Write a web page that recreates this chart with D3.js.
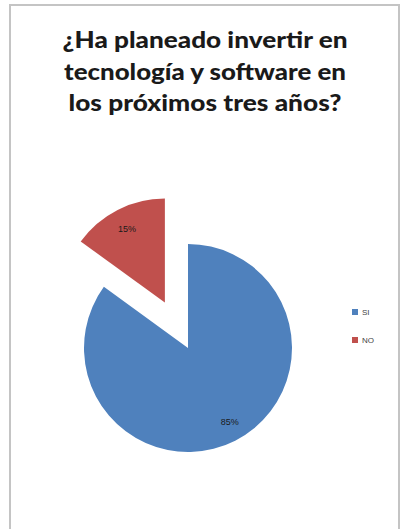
<!DOCTYPE html>
<html><head><meta charset="utf-8">
<script src="https://cdn.jsdelivr.net/npm/d3@7"></script>
<style>body{margin:0;background:#fff}svg{display:block}</style>
</head><body>
<script>
const titleLines = ["¿Ha planeado invertir en", "tecnología y software en", "los próximos tres años?"];
const categories = ["SI", "NO"];
const values = [85, 15];
const colors = ["#4F81BD", "#C0504D"];

const W = 405, H = 529;
const svg = d3.select("body").append("svg").attr("width", W).attr("height", H);
svg.append("rect").attr("x", 0).attr("y", 0).attr("width", W).attr("height", H).attr("fill", "#fff");
svg.append("rect").attr("x", 10).attr("y", 5).attr("width", 389).attr("height", 540)
  .attr("fill", "none").attr("stroke", "#c4c4c4").attr("stroke-width", 2);

const titleW = [285, 282, 273];
svg.append("g").selectAll("text").data(titleLines).join("text")
  .attr("x", 205).attr("y", (d, i) => 48 + i * 31.5)
  .attr("text-anchor", "middle")
  .attr("font-family", "Lato, 'Open Sans', sans-serif").attr("font-weight", 900)
  .attr("font-size", 23.5).attr("fill", "#1a1a1a")
  .attr("textLength", (d, i) => titleW[i]).attr("lengthAdjust", "spacingAndGlyphs")
  .text(d => d);

const cx = 188, cy = 348, r = 104, explode = 51;
const pie = d3.pie().sort(null).value(d => d.v);
const arcs = pie(categories.map((c, i) => ({c, v: values[i], col: colors[i]})));
const arc = d3.arc().innerRadius(0).outerRadius(r);
const g = svg.append("g").attr("transform", `translate(${cx},${cy})`);
const sl = g.selectAll("g.s").data(arcs).join("g")
  .attr("transform", d => {
    if (d.data.c !== "NO") return null;
    const m = (d.startAngle + d.endAngle) / 2;
    return `translate(${Math.sin(m) * explode},${-Math.cos(m) * explode})`;
  });
sl.append("path").attr("d", arc).attr("fill", d => d.data.col);
sl.append("text")
  .attr("transform", d => {
    const m = (d.startAngle + d.endAngle) / 2;
    const rr = d.data.c === "NO" ? r * 0.8 : r * 0.8;
    return `translate(${Math.sin(m) * rr + (d.data.c === "SI" ? 4 : 0)},${-Math.cos(m) * rr})`;
  })
  .attr("text-anchor", "middle").attr("dy", "0.35em")
  .attr("font-family", "'Liberation Sans', Arial, sans-serif").attr("font-size", 9)
  .attr("fill", "#1a1a1a")
  .text(d => d.data.v + "%");

const leg = svg.append("g").selectAll("g").data(categories).join("g")
  .attr("transform", (d, i) => `translate(352,${312 + i * 28})`);
leg.append("rect").attr("x", 0).attr("y", -3).attr("width", 6).attr("height", 6)
  .attr("fill", (d, i) => colors[i]);
leg.append("text").attr("x", 10).attr("y", 0).attr("dy", "0.35em")
  .attr("font-family", "'Liberation Sans', Arial, sans-serif").attr("font-size", 8)
  .attr("fill", "#444").text(d => d);
</script>
</body></html>
